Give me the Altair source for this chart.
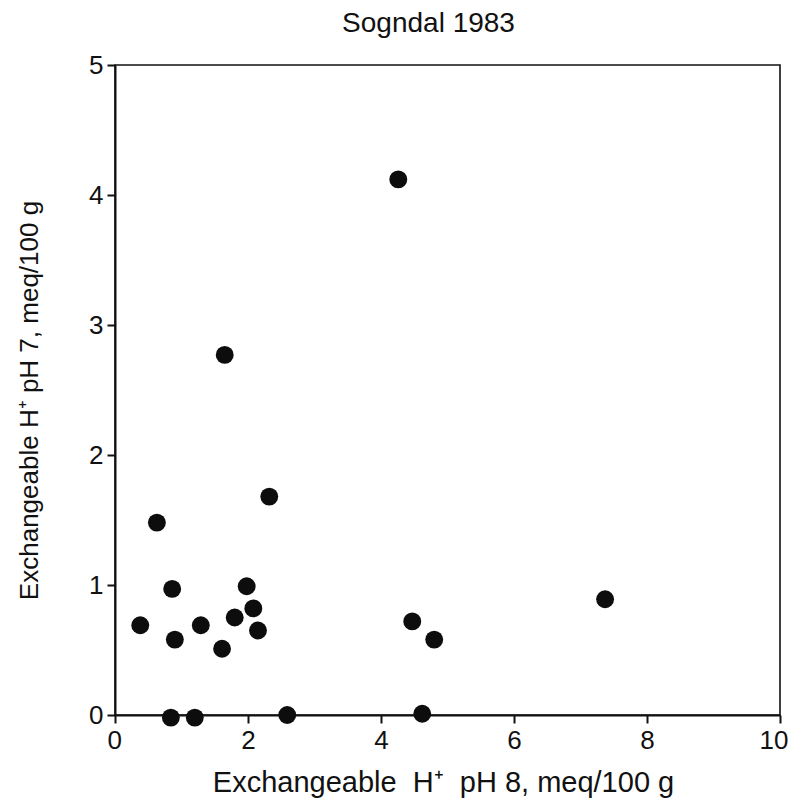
import altair as alt
import pandas as pd

ph8 = [0.38, 0.63, 0.86, 0.90, 0.84, 1.20, 1.29, 1.65, 1.61, 1.80, 1.98, 2.08, 2.15, 2.32, 2.59, 4.26, 4.47, 4.62, 4.80, 7.37]
ph7 = [0.69, 1.48, 0.97, 0.58, -0.02, -0.02, 0.69, 2.77, 0.51, 0.75, 0.99, 0.82, 0.65, 1.68, 0.00, 4.12, 0.72, 0.01, 0.58, 0.89]

df = pd.DataFrame({"ph8": ph8, "ph7": ph7})

FONT = "Liberation Sans"
NB = "\u00a0"

chart = alt.Chart(df).mark_circle(size=320, color="#0d0d0d", opacity=1, clip=False).encode(
    x=alt.X("ph8:Q", scale=alt.Scale(domain=[0, 10], nice=False, zero=False),
            axis=alt.Axis(values=[0, 2, 4, 6, 8, 10],
                          title=f"Exchangeable{NB}{NB}H⁺{NB}{NB}pH 8, meq/100 g",
                          titleX=328, titleY=67, titleBaseline="middle", titleFontSize=29,
                          labelFlush=True, labelFlushOffset=8)),
    y=alt.Y("ph7:Q", scale=alt.Scale(domain=[0, 5], nice=False, zero=False),
            axis=alt.Axis(values=[0, 1, 2, 3, 4, 5],
                          title=f"Exchangeable H⁺ pH 7, meq/100 g",
                          titleX=-86, titleY=335, titleBaseline="middle", titleFontSize=26,
                          labelFlush=False)),
).properties(
    width=665, height=650,
    background="white",
    title=alt.TitleParams("Sogndal 1983", fontSize=28, font=FONT, fontWeight="normal",
                          color="#111111", offset=14, anchor="middle", dx=-19),
    autosize=alt.AutoSizeParams(type="none"),
    padding={"left": 107, "top": 57, "right": 10, "bottom": 86},
).configure_view(
    stroke="#111111", strokeWidth=1.6
).configure_axis(
    grid=False, domainColor="#111111", domainWidth=2, tickColor="#111111",
    tickWidth=2, tickSize=8, labelFont=FONT, labelFontSize=26, labelColor="#111111",
    labelPadding=4, titleFont=FONT, titleFontWeight="normal",
    titleColor="#111111"
)

chart.save("out.html", embed_options={"renderer": "svg", "actions": False})
